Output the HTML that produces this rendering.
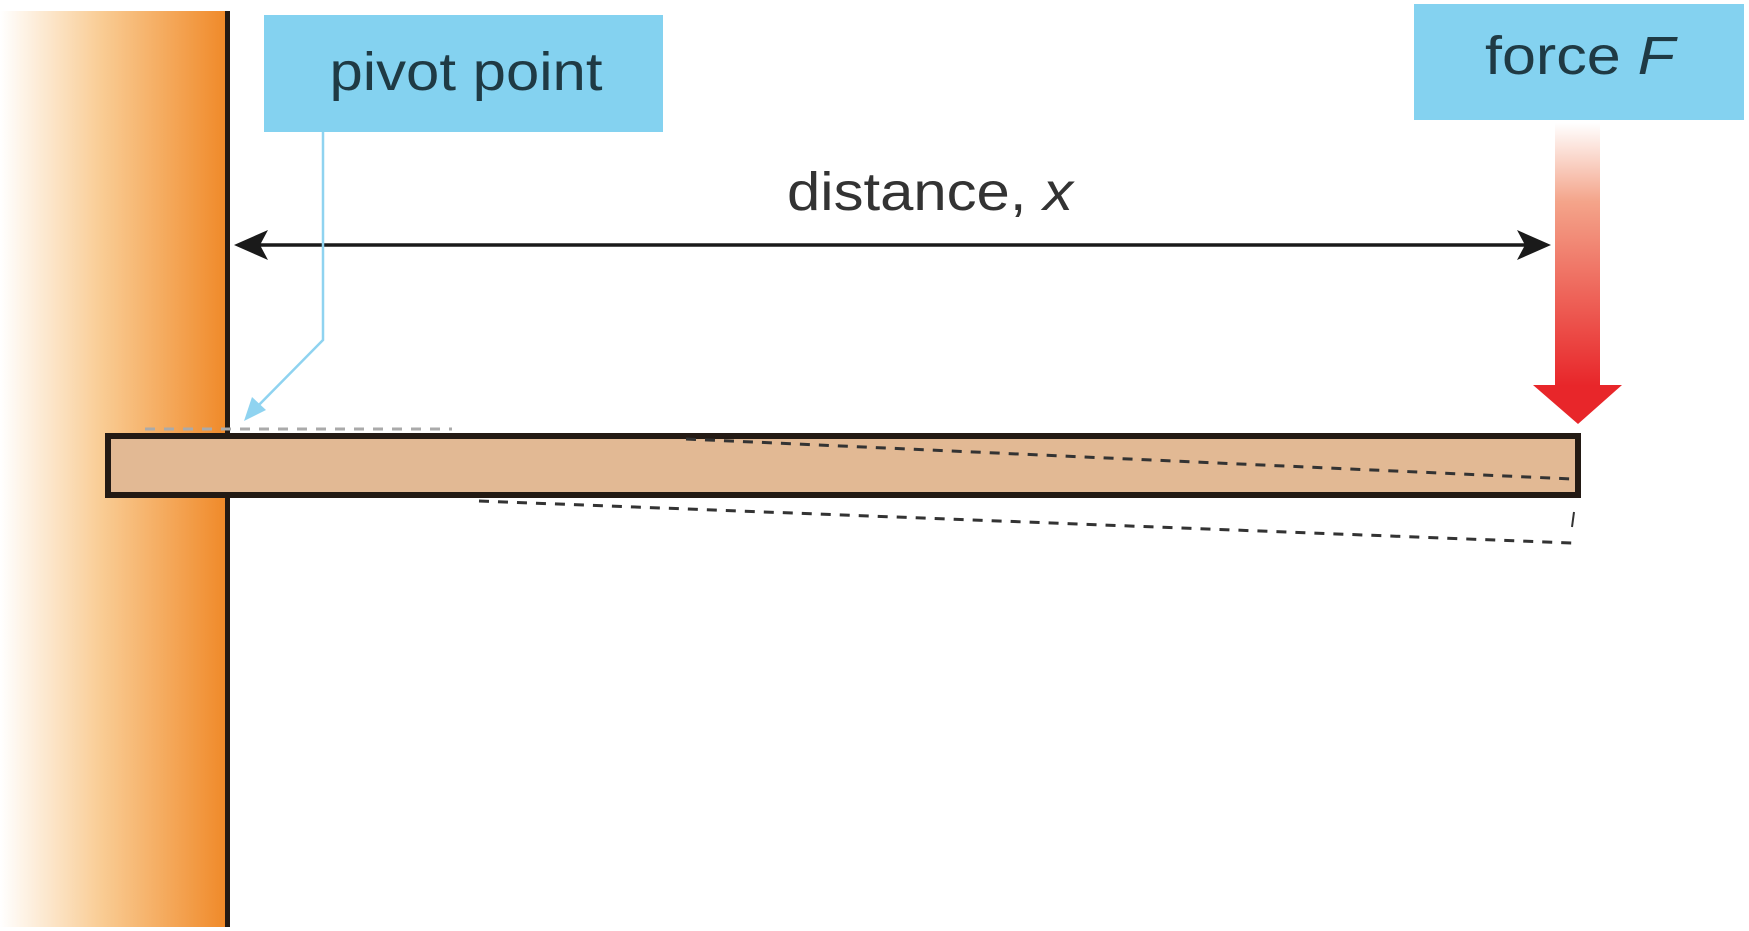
<!DOCTYPE html>
<html><head><meta charset="utf-8"><style>
html,body{margin:0;padding:0;background:#fff;}
svg{display:block;}
</style></head><body>
<svg width="1749" height="931" viewBox="0 0 1749 931" xmlns="http://www.w3.org/2000/svg">
<defs>
<linearGradient id="wallg" x1="0" x2="1" y1="0" y2="0">
<stop offset="0" stop-color="#fff"/>
<stop offset="0.45" stop-color="#f9cc94"/>
<stop offset="1" stop-color="#f08a2a"/>
</linearGradient>
<linearGradient id="redg" x1="0" x2="0" y1="0" y2="1">
<stop offset="0" stop-color="#fff"/>
<stop offset="0.3" stop-color="#f4a48a"/>
<stop offset="1" stop-color="#e8262a"/>
</linearGradient>
</defs>
<rect x="0" y="11" width="225" height="916" fill="url(#wallg)"/>
<rect x="225" y="11" width="5" height="916" fill="#231a14"/>
<rect x="264" y="15" width="399" height="117" fill="#84d2f0"/>
<text x="466" y="90" font-family="Liberation Sans, sans-serif" font-size="54" fill="#1f3a44" text-anchor="middle" textLength="273" lengthAdjust="spacingAndGlyphs">pivot point</text>
<rect x="1414" y="4" width="330" height="116" fill="#84d2f0"/>
<text x="1580" y="74" font-family="Liberation Sans, sans-serif" font-size="54" fill="#1f3a44" text-anchor="middle" textLength="190" lengthAdjust="spacingAndGlyphs">force <tspan font-style="italic">F</tspan></text>
<text x="930" y="210" font-family="Liberation Sans, sans-serif" font-size="54" fill="#333" text-anchor="middle" textLength="286" lengthAdjust="spacingAndGlyphs">distance, <tspan font-style="italic">x</tspan></text>
<g>
<line x1="240" y1="245" x2="1545" y2="245" stroke="#1a1a1a" stroke-width="3.5"/>
<polygon points="234,245 268,230 260,245 268,260" fill="#1a1a1a"/>
<polygon points="1551,245 1517,230 1525,245 1517,260" fill="#1a1a1a"/>
</g>
<g>
<rect x="1555" y="123" width="45" height="263" fill="url(#redg)"/>
<polygon points="1533,385 1622,385 1578,424" fill="#e8262a"/>
</g>
<g stroke="#8fd3f0" stroke-width="2.5" fill="none">
<polyline points="323,132 323,340 250,414"/>
<polygon points="244,421 252,397 266,410" fill="#8fd3f0" stroke="none"/>
</g>
<rect x="108" y="436" width="1470" height="59" fill="#e2b994" stroke="#231a14" stroke-width="6"/>
<g stroke="#333" stroke-width="3" stroke-dasharray="10,9" fill="none">
<line x1="145" y1="429" x2="452" y2="429" stroke="#aaa"/>
<line x1="686" y1="439" x2="1572" y2="479"/>
<line x1="479" y1="501" x2="1572" y2="543"/>
<line x1="1574" y1="512" x2="1572" y2="527" stroke-dasharray="none" stroke-width="2"/>
</g>
</svg>
</body></html>
